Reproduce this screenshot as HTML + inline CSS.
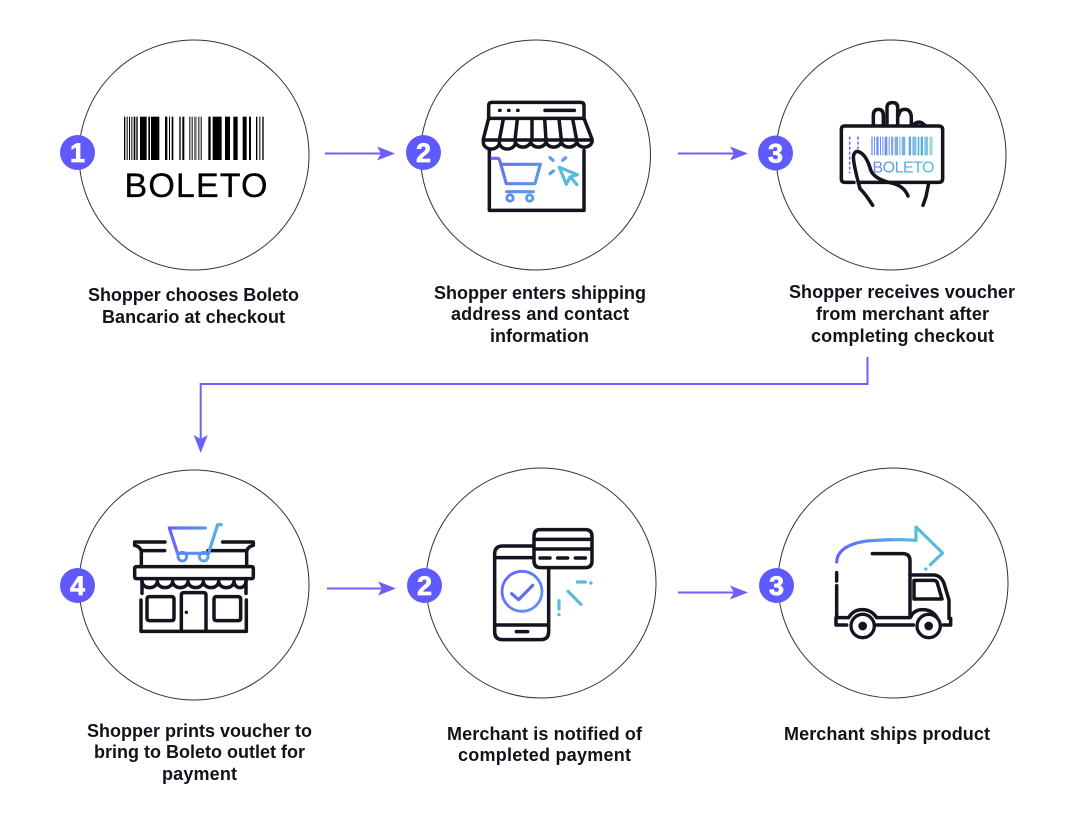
<!DOCTYPE html>
<html>
<head>
<meta charset="utf-8">
<style>
html,body{margin:0;padding:0;background:#fff;width:1080px;height:826px;overflow:hidden}
svg{display:block}
.t{font-family:"Liberation Sans",sans-serif;font-weight:bold;font-size:18px;fill:#12121c}
.n{font-family:"Liberation Sans",sans-serif;font-weight:bold;font-size:27px;fill:#fff;stroke:#fff;stroke-width:.7;text-anchor:middle}
.k{fill:none;stroke:#14141f;stroke-width:10.500;stroke-linecap:round;stroke-linejoin:round}
.d{fill:none;stroke-width:9.500;stroke-linecap:round;stroke-linejoin:round}
.c{fill:none;stroke:#333;stroke-width:1}
.a{fill:none;stroke:#6b60fb;stroke-width:2}
</style>
</head>
<body>
<svg width="1080" height="826" viewBox="0 0 1080 826" xmlns="http://www.w3.org/2000/svg">
<defs>
<linearGradient id="g2" gradientUnits="userSpaceOnUse" x1="872" y1="0" x2="934" y2="0"><stop offset="0" stop-color="#5f8ff0"/><stop offset="1" stop-color="#55c0da"/></linearGradient>
<linearGradient id="g3" gradientUnits="userSpaceOnUse" x1="355" y1="0" x2="520" y2="0"><stop offset="0" stop-color="#6a5ffa"/><stop offset="1" stop-color="#55b8de"/></linearGradient>
<linearGradient id="g4" gradientUnits="userSpaceOnUse" x1="300" y1="170" x2="430" y2="290"><stop offset="0" stop-color="#6a5ffa"/><stop offset="1" stop-color="#5b9bec"/></linearGradient>
<linearGradient id="g5" gradientUnits="userSpaceOnUse" x1="255" y1="0" x2="510" y2="0"><stop offset="0" stop-color="#6a5ffa"/><stop offset="0.6" stop-color="#5b9bec"/><stop offset="1" stop-color="#55c0da"/></linearGradient>
</defs>

<!-- circles -->
<circle class="c" cx="194" cy="155" r="115"/>
<circle class="c" cx="535.500" cy="155" r="115"/>
<circle class="c" cx="891" cy="155" r="115"/>
<circle class="c" cx="194" cy="585" r="115"/>
<circle class="c" cx="541" cy="583" r="115"/>
<circle class="c" cx="893" cy="583" r="115"/>

<!-- connectors -->
<path class="a" d="M325 153.500H385"/><path d="M395 153.500L377 146.500L381 153.500L377 160.500Z" fill="#6b60fb"/>
<path class="a" d="M678 153.500H738"/><path d="M748 153.500L730 146.500L734 153.500L730 160.500Z" fill="#6b60fb"/>
<path class="a" d="M867.500 357V384H200.700V442"/><path d="M200.700 453L193.700 435L200.700 439L207.700 435Z" fill="#6b60fb"/>
<path class="a" d="M327 588.500H386"/><path d="M396 588.500L378 581.500L382 588.500L378 595.500Z" fill="#6b60fb"/>
<path class="a" d="M678 592.500H738"/><path d="M748 592.500L730 585.500L734 592.500L730 599.500Z" fill="#6b60fb"/>

<!-- icon 1: barcode -->
<g transform="translate(50 80) scale(.33333)" fill="#000">
<rect x="222" y="110" width="4" height="130"/><rect x="230" y="110" width="3" height="130"/><rect x="237" y="110" width="3" height="130"/><rect x="244" y="110" width="3" height="130"/><rect x="251" y="110" width="5" height="130"/><rect x="259" y="110" width="4" height="130"/><rect x="270" y="110" width="20" height="130"/><rect x="295" y="110" width="5" height="130"/><rect x="303" y="110" width="25" height="130"/><rect x="345" y="110" width="7" height="130"/><rect x="357" y="110" width="3" height="130"/><rect x="365" y="110" width="5" height="130"/><rect x="388" y="110" width="4" height="130"/><rect x="397" y="110" width="6" height="130"/><rect x="418" y="110" width="3" height="130"/><rect x="425" y="110" width="3" height="130"/><rect x="432" y="110" width="8" height="130" fill="#777"/><rect x="445" y="110" width="3" height="130"/><rect x="452" y="110" width="3" height="130"/><rect x="475" y="110" width="7" height="130"/><rect x="488" y="110" width="27" height="130"/><rect x="525" y="110" width="15" height="130"/><rect x="550" y="110" width="13" height="130"/><rect x="578" y="110" width="12" height="130"/><rect x="597" y="110" width="6" height="130"/><rect x="618" y="110" width="4" height="130"/><rect x="628" y="110" width="3" height="130"/><rect x="637" y="110" width="4" height="130"/>
</g>
<text x="124.500" y="197" font-family="Liberation Sans,sans-serif" font-size="34" fill="#000" stroke="#000" stroke-width=".3" textLength="143">BOLETO</text>

<!-- icon 2: store -->
<g transform="translate(400 85) scale(.33333)">
<path class="k" d="M266 100V62Q266 52 276 52H542Q552 52 552 62V100Z"/>
<path class="k" d="M266 100L250 162V172A24 20 0 0 0 298 172A24 20 0 0 0 346 172A24 20 0 0 0 392 172A24 20 0 0 0 438 172A24 20 0 0 0 484 172A24 20 0 0 0 530 172A24 20 0 0 0 576 172V162L552 100"/>
<path class="k" d="M250 165H576M268 196V376H552V196"/>
<path class="k" d="M310 102L298 165M352 102L345 165M396 102V165M434 102L438 165M477 102L484 165M518 102L530 165"/>
<path class="k" d="M299 76h1M326 76h1M353 76h1M435 76H523"/>
<path class="d" stroke="url(#g4)" d="M276 220H292Q297 220 299 226L319 296H405L421 238H304M320 320H400"/>
<circle cx="330" cy="339" r="9.500" fill="none" stroke="#5b8df0" stroke-width="8.500"/>
<circle cx="389" cy="339" r="9.500" fill="none" stroke="#5b9bec" stroke-width="8.500"/>
<path class="d" stroke="#5b9bec" d="M450 218L459 226M497 218L488 226M450 266L460 258"/>
<path class="d" stroke="#55bcd8" d="M478 247L532 269L510 276L499 298ZM511 276L531 299"/>
</g>

<!-- icon 3: card -->
<g transform="translate(750 90) scale(.33333)">
<path class="k" d="M370 106V76Q370 58 385 58Q400 58 400 76V102M411 102V52Q411 38 427 38Q443 38 443 52V102M446 76Q448 58 464 58Q484 58 484 84V106M490 104Q510 88 524 106"/>
<path class="k" d="M283 108H566Q578 108 578 120V266Q578 277 566 277H325M312 277H284Q274 277 274 266V120Q274 108 283 108"/>
<path class="k" d="M368 346Q345 310 330 296Q312 230 310 202Q312 180 328 186Q350 196 362 240Q372 266 420 278Q462 286 474 318M536 280L528 320L519 346"/>
<path fill="none" stroke="#6a5ffa" stroke-width="4.500" stroke-dasharray="9 6" d="M299 140V250M324 140V178"/>
<g fill="#6f8ff0">
<rect x="364" y="140" width="4" height="56"/><rect x="372" y="140" width="3" height="56"/><rect x="379" y="140" width="7" height="56"/><rect x="390" y="140" width="3" height="56"/><rect x="397" y="140" width="3" height="56"/><rect x="404" y="140" width="8" height="56"/><rect x="416" y="140" width="3" height="56"/><rect x="423" y="140" width="7" height="56" fill="#82a8ea"/><rect x="434" y="140" width="10" height="56" fill="#82a8ea"/><rect x="448" y="140" width="3" height="56" fill="#70a8e8"/><rect x="455" y="140" width="11" height="56" fill="#7ab2e6"/><rect x="476" y="140" width="7" height="56" fill="#60a8e2"/><rect x="487" y="140" width="12" height="56" fill="#80bce8"/><rect x="503" y="140" width="5" height="56" fill="#55b0d8"/><rect x="512" y="140" width="7" height="56" fill="#55b0d8"/><rect x="523" y="140" width="11" height="56" fill="#80c8e0"/><rect x="538" y="140" width="10" height="56" fill="#a0d8e8"/>
</g>
</g>
<text x="872.500" y="172.300" font-family="Liberation Sans,sans-serif" font-size="16" fill="url(#g2)" textLength="62">BOLETO</text>

<!-- icon 4: shop -->
<g transform="translate(50 510) scale(.33333)">
<path class="k" d="M345 96H254V106Q268 108 274 122H344M518 96H610V106Q596 108 590 122H474"/>
<path class="k" d="M274 122V170M590 122V170"/>
<path class="k" d="M260 170H604Q610 170 610 176V200Q610 206 604 206H260Q254 206 254 200V176Q254 170 260 170Z"/>
<path class="k" d="M276 206V250M588 206V250M273 270V364H589V270"/>
<path class="k" d="M276 214A23 19 0 0 0 322 214A23 19 0 0 0 368 214A23 19 0 0 0 414 214A23 19 0 0 0 460 214A23 19 0 0 0 506 214A23 19 0 0 0 552 214A18 19 0 0 0 588 214"/>
<path class="k" d="M299 260H364Q372 260 372 268V324Q372 332 364 332H299Q291 332 291 324V268Q291 260 299 260ZM500 260H564Q572 260 572 268V324Q572 332 564 332H500Q492 332 492 324V268Q492 260 500 260Z"/>
<path class="k" d="M394 364V256Q394 248 402 248H460Q468 248 468 256V364"/>
<circle cx="409" cy="307" r="5" fill="#14141f"/>
<path class="d" stroke="url(#g3)" d="M466 54H358L382 128M476 128L503 44H514"/>
<circle cx="397" cy="140" r="13" fill="#fff" stroke="#5b8df0" stroke-width="8.500"/>
<circle cx="461" cy="140" r="13" fill="#fff" stroke="#58a8e4" stroke-width="8.500"/>
<path class="d" stroke="#5b8df0" d="M382 130H476"/>
</g>

<!-- icon 5: phone -->
<g transform="translate(400 515) scale(.33333)">
<path class="k" d="M400 93H308Q284 93 284 117V350Q284 374 308 374H422Q446 374 446 350V160"/>
<path class="k" d="M284 128H400M284 330H446M349 350H383"/>
<path class="k" d="M420 44H556Q576 44 576 64V138Q576 158 556 158H422Q402 158 402 138V64Q402 44 420 44Z"/>
<path class="k" d="M402 73H576M402 102H576M420 129H450M473 129H503M526 129H556"/>
<circle cx="366" cy="229" r="60" fill="none" stroke="url(#g4)" stroke-width="8.500"/>
<path class="d" stroke="#5b6ff5" d="M335 236L356 254L398 211"/>
<path class="d" stroke="#55bcdc" d="M532 201H556M572 204h1M504 229L543 268M477 257V282M477 298v1"/>
</g>

<!-- icon 6: truck -->
<g transform="translate(750 515) scale(.33333)">
<path class="k" d="M367 116H458Q480 116 480 138V300"/>
<path class="k" d="M260 173V198M260 212V308H296Q310 284 337 284Q364 284 380 308H480M480 180H550Q572 180 582 205L597 255V310H602V330H580M560 306Q545 284 518 284Q492 284 482 306M258 308V330H290M380 330H490"/>
<path class="k" d="M492 196H552Q560 196 562 204L576 252H492Z"/>
<circle cx="338" cy="333" r="35" fill="#fff" stroke="#14141f" stroke-width="10"/>
<circle cx="338" cy="333" r="13" fill="#14141f"/>
<circle cx="536" cy="333" r="35" fill="#fff" stroke="#14141f" stroke-width="10"/>
<circle cx="536" cy="333" r="13" fill="#14141f"/>
<path class="d" stroke="url(#g5)" d="M260 141C262 95 320 78 380 76Q440 72 498 76"/>
<path class="d" stroke="#55bcdc" d="M498 76V36L578 114L541 149M527 162h1"/>
</g>

<!-- badges -->
<circle cx="77.500" cy="152.500" r="17.500" fill="#6059fb"/><text class="n" x="77.500" y="162">1</text>
<circle cx="423.500" cy="152.500" r="17.500" fill="#6059fb"/><text class="n" x="423.500" y="162">2</text>
<circle cx="775.500" cy="153" r="17.500" fill="#6059fb"/><text class="n" x="775.500" y="162.500">3</text>
<circle cx="77.500" cy="585.500" r="17.500" fill="#6059fb"/><text class="n" x="77.500" y="595">4</text>
<circle cx="424.500" cy="585.500" r="17.500" fill="#6059fb"/><text class="n" x="424.500" y="595">2</text>
<circle cx="776.500" cy="585.500" r="17.500" fill="#6059fb"/><text class="n" x="776.500" y="595">3</text>

<!-- labels -->
<text class="t" x="88" y="301" textLength="211">Shopper chooses Boleto</text>
<text class="t" x="102" y="323" textLength="183">Bancario at checkout</text>
<text class="t" x="434" y="299" textLength="212">Shopper enters shipping</text>
<text class="t" x="451" y="320" textLength="178">address and contact</text>
<text class="t" x="490" y="342" textLength="99">information</text>
<text class="t" x="789" y="298" textLength="226">Shopper receives voucher</text>
<text class="t" x="816" y="320" textLength="173">from merchant after</text>
<text class="t" x="811" y="342" textLength="183">completing checkout</text>
<text class="t" x="87" y="737" textLength="225">Shopper prints voucher to</text>
<text class="t" x="94" y="758" textLength="211">bring to Boleto outlet for</text>
<text class="t" x="162" y="780" textLength="75">payment</text>
<text class="t" x="447" y="740" textLength="195">Merchant is notified of</text>
<text class="t" x="458" y="761" textLength="173">completed payment</text>
<text class="t" x="784" y="740" textLength="206">Merchant ships product</text>
</svg>
</body>
</html>
